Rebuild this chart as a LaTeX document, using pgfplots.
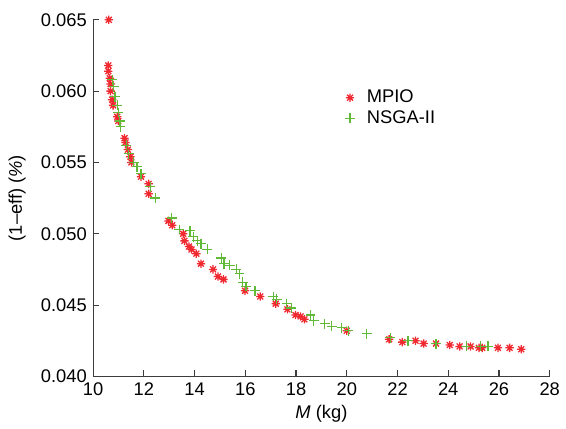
\documentclass[border=0pt]{standalone}
\usepackage{pgfplots}
\pgfplotsset{compat=1.18}
\usepackage{fontspec}
\setmainfont{Liberation Sans}
\definecolor{mpio}{RGB}{240,40,48}
\definecolor{nsga}{RGB}{96,186,56}
\definecolor{axgray}{RGB}{60,60,60}
% eight-ray asterisk, as in MATLAB's '*'
\pgfdeclareplotmark{ast8}{%
  \pgfpathmoveto{\pgfqpoint{-\pgfplotmarksize}{0pt}}\pgfpathlineto{\pgfqpoint{\pgfplotmarksize}{0pt}}%
  \pgfpathmoveto{\pgfqpoint{0pt}{-\pgfplotmarksize}}\pgfpathlineto{\pgfqpoint{0pt}{\pgfplotmarksize}}%
  \pgfpathmoveto{\pgfqpoint{-.707\pgfplotmarksize}{-.707\pgfplotmarksize}}\pgfpathlineto{\pgfqpoint{.707\pgfplotmarksize}{.707\pgfplotmarksize}}%
  \pgfpathmoveto{\pgfqpoint{-.707\pgfplotmarksize}{.707\pgfplotmarksize}}\pgfpathlineto{\pgfqpoint{.707\pgfplotmarksize}{-.707\pgfplotmarksize}}%
  \pgfusepathqstroke}

\begin{document}
\fontsize{18.5}{22}\selectfont
\begin{tikzpicture}
\begin{axis}[
    scale only axis,
    width=461pt, height=360pt,
    xmin=10, xmax=28,
    ymin=0.040, ymax=0.065,
    xtick={10,12,...,28},
    ytick={0.040,0.045,...,0.0651},
    axis x line=bottom,
    axis y line=left,
    axis line style={axgray, line width=1.1pt, -},
    tick style={axgray, line width=1.1pt},
    tick align=inside,
    major tick length=6pt,
    yticklabel style={/pgf/number format/fixed, /pgf/number format/precision=3, /pgf/number format/fixed zerofill},
    scaled y ticks=false,
    /pgf/number format/assume math mode=true,
    ticklabel style={font=\fontsize{18.5}{22}\selectfont},
    xlabel={\textit{M} (kg)},
    ylabel={(1\textendash eff) (\textit{\%})},
    label style={font=\fontsize{18.5}{22}\selectfont},
    xlabel style={yshift=3pt},
    ylabel style={yshift=3pt},
    legend style={draw=none, fill=none, at={(0.545,0.815)}, anchor=north west,
        font=\fontsize{18.5}{22}\selectfont, row sep=1pt,
        /tikz/every odd column/.append style={column sep=10pt}},
    legend cell align=left,
]
\addplot[only marks, mark=ast8, mark size=4.2pt, draw=mpio, mark options={draw=mpio}, line width=1.3pt] coordinates {
(10.62,0.0650) (10.60,0.0618) (10.60,0.0614) (10.66,0.0609) (10.69,0.0605)
(10.69,0.0600) (10.75,0.0594) (10.79,0.0590) (10.95,0.0582) (10.99,0.0579)
(11.24,0.0567) (11.28,0.0564) (11.37,0.0559) (11.47,0.0554) (11.51,0.0550)
(11.89,0.0540) (12.19,0.0535) (12.19,0.0528)
(12.97,0.0509) (13.12,0.0506) (13.55,0.0500) (13.60,0.0495) (13.78,0.0491)
(13.88,0.0489) (14.07,0.0486) (14.25,0.0479) (14.73,0.0475) (14.92,0.0470)
(15.14,0.0468) (15.99,0.0460) (16.59,0.0456) (17.20,0.0451) (17.66,0.0447)
(17.98,0.0443) (18.18,0.0442) (18.33,0.0440) (20.00,0.0432)
(21.67,0.0426) (22.19,0.0424) (22.71,0.0425) (23.03,0.0423) (23.52,0.0423)
(24.06,0.0422) (24.45,0.0421) (24.88,0.0421) (25.21,0.0420) (25.34,0.0420)
(25.96,0.0420) (26.42,0.0420) (26.88,0.0419)
};
\addlegendentry{MPIO}
\addplot[only marks, mark=+, mark size=5pt, draw=nsga, mark options={draw=nsga}, line width=1.2pt] coordinates {
(10.75,0.0608) (10.82,0.0603) (10.86,0.0596) (10.95,0.0590) (10.99,0.0585)
(11.05,0.0579) (11.08,0.0575) (11.31,0.0562) (11.41,0.0556) (11.60,0.0550)
(11.73,0.0547) (11.89,0.0542) (12.25,0.0533) (12.45,0.0525)
(13.10,0.0511) (13.39,0.0503) (13.82,0.0502) (13.95,0.0498) (14.11,0.0495)
(14.25,0.0493) (14.50,0.0489) (15.05,0.0483) (15.16,0.0479) (15.38,0.0478)
(15.64,0.0475) (15.77,0.0472) (15.90,0.0466) (16.03,0.0463) (16.38,0.0460)
(17.10,0.0456) (17.24,0.0454) (17.63,0.0451) (17.81,0.0448) (18.57,0.0443)
(18.70,0.0439) (19.13,0.0437) (19.41,0.0435) (19.80,0.0434) (20.07,0.0432)
(20.78,0.0430) (21.72,0.0427) (22.41,0.0425) (23.52,0.0423) (24.71,0.0421)
(25.27,0.0421) (25.57,0.0421)
};
\addlegendentry{NSGA-II}
\end{axis}
\useasboundingbox (current axis.south west) ++(-94pt,-51pt) rectangle ([xshift=11pt,yshift=20pt]current axis.north east);
\end{tikzpicture}
\end{document}
